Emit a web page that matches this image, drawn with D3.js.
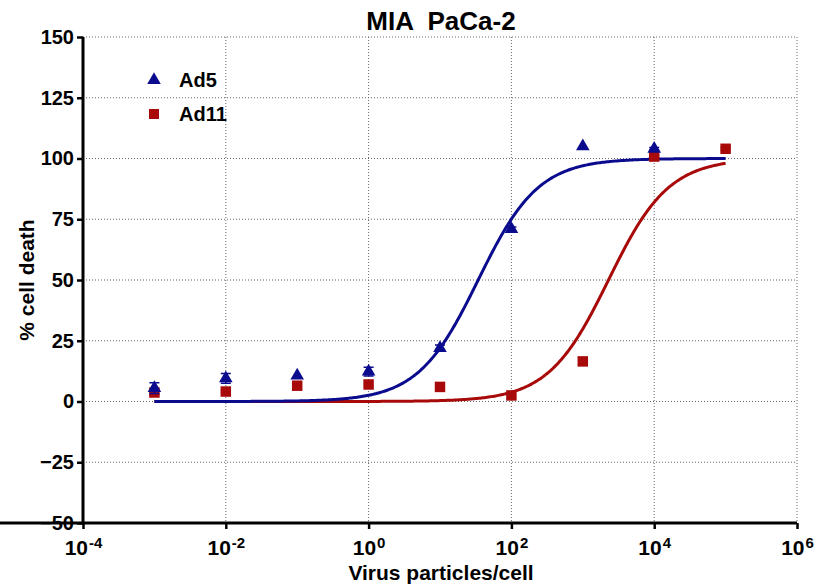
<!DOCTYPE html>
<html>
<head>
<meta charset="utf-8">
<script src="https://cdn.jsdelivr.net/npm/d3@7"></script>
<style>
  body { margin: 0; background: #fff; }
  text { font-family: "Liberation Sans", Arial, sans-serif; font-weight: bold; }
</style>
</head>
<body>
<svg id="chart" width="821" height="585"></svg>
<script>
// Doses (virus particles per cell)
const doses = [1e-3, 1e-2, 1e-1, 1, 10, 100, 1000, 1e4, 1e5];
// Mean % cell death and SEM for each virus
const ad5Mean = [5.5, 9.5, 10.7, 12.3, 22, 71, 105, 104, null];
const ad5Err  = [2.2, 2.0, 0,    1.8,  1.2, 0.8, 0,   0.5, null];
const ad11Mean = [3.7, 4.1, 6.5, 7, 6, 2.5, 16.5, 100.8, 104];
const ad11Err  = [0.8, 0.5, 0,   0, 0, 0,   1.4,  0.5,   0.5];
// Fitted dose–response parameters (log EC50, Hill slope, bottom, top)
const ad5Fit  = { logEC50: 1.535, hill: 1.03, bottom: 0, top: 100 };
const ad11Fit = { logEC50: 3.36,  hill: 1.03, bottom: 0, top: 100 };
const fitRange = [1e-3, 1e5];
// Axis ticks
const xTicks = [1e-4, 1e-2, 1, 1e2, 1e4, 1e6];
const yTicks = [-50, -25, 0, 25, 50, 75, 100, 125, 150];

const svg = d3.select("#chart");
const x = d3.scaleLog().domain([1e-4, 1e6]).range([83, 797]);
const y = d3.scaleLinear().domain([-50, 150]).range([523, 37]);

const blue = "#0b0b8e", red = "#a80a0a";
const FONT = "Liberation Sans, Arial, sans-serif";

// Dotted grid
const grid = svg.append("g").attr("stroke", "#666").attr("stroke-width", 1)
  .attr("stroke-dasharray", "1,2");
xTicks.slice(1).forEach(t => grid.append("line")
  .attr("x1", x(t)).attr("x2", x(t)).attr("y1", y(150)).attr("y2", y(-50)));
yTicks.slice(1).forEach(t => grid.append("line")
  .attr("x1", x(1e-4)).attr("x2", x(1e6)).attr("y1", y(t)).attr("y2", y(t)));

// Axes
const yAxis = svg.append("g").attr("transform", `translate(${x(1e-4)},0)`)
  .call(d3.axisLeft(y).tickValues(yTicks).tickSize(6).tickPadding(3).tickFormat(d3.format("d")));
const xAxis = svg.append("g").attr("transform", `translate(0,${y(-50)})`)
  .call(d3.axisBottom(x).tickValues(xTicks).tickSize(6).tickPadding(5).tickFormat(() => ""));
[yAxis, xAxis].forEach(a => {
  a.select(".domain").attr("stroke", "#000").attr("stroke-width", 3);
  a.selectAll(".tick line").attr("stroke", "#000").attr("stroke-width", 2.5);
});
yAxis.selectAll(".domain").attr("d", `M0,${y(150)}V${y(-50) + 1.5}`);
xAxis.selectAll(".domain").attr("d", `M-1.5,0H${x(1e6)}`);
yAxis.selectAll(".tick text").attr("font-size", 20).attr("fill", "#000")
  .attr("font-family", FONT).attr("font-weight", "bold");

// Power-of-ten tick labels
xAxis.selectAll(".tick text").each(function (d) {
  const t = d3.select(this).text(null).attr("font-size", 21).attr("fill", "#000")
    .attr("font-family", FONT).attr("font-weight", "bold")
    .attr("dy", "1em").attr("text-anchor", "middle");
  t.append("tspan").text("10");
  t.append("tspan").attr("dy", "-0.5em").attr("dx", "1").attr("font-size", 15)
    .text(Math.round(Math.log10(d)));
});

// Fitted curves
function fitFn(p) {
  return v => p.bottom + (p.top - p.bottom) / (1 + Math.pow(10, (p.logEC50 - Math.log10(v)) * p.hill));
}
const curveX = d3.range(0, 401).map(i => Math.pow(10, Math.log10(fitRange[0]) +
  i / 400 * (Math.log10(fitRange[1]) - Math.log10(fitRange[0]))));
const line = d3.line().x(d => x(d[0])).y(d => y(d[1]));
[[ad11Fit, red], [ad5Fit, blue]].forEach(([p, c]) => {
  const f = fitFn(p);
  svg.append("path").datum(curveX.map(v => [v, f(v)]))
    .attr("d", line).attr("fill", "none").attr("stroke", c).attr("stroke-width", 3);
});

// Data points with error bars
function drawSeries(means, errs, color, symbolType, size) {
  const g = svg.append("g");
  doses.forEach((dose, i) => {
    const m = means[i];
    if (m == null) return;
    const e = errs[i] || 0;
    if (e > 0) {
      g.append("path").attr("fill", "none").attr("stroke", color).attr("stroke-width", 1.5)
        .attr("d", `M${x(dose)},${y(m - e)}V${y(m + e)}M${x(dose) - 5},${y(m + e)}H${x(dose) + 5}M${x(dose) - 5},${y(m - e)}H${x(dose) + 5}`);
    }
    g.append("path").attr("transform", `translate(${x(dose)},${y(m)})`)
      .attr("d", d3.symbol().type(symbolType).size(size)).attr("fill", color);
  });
}
drawSeries(ad11Mean, ad11Err, red, d3.symbolSquare, 110);
drawSeries(ad5Mean, ad5Err, blue, d3.symbolTriangle, 80);

// Legend
const legend = [["Ad5", blue, d3.symbolTriangle, 80], ["Ad11", red, d3.symbolSquare, 100]];
legend.forEach(([name, c, s, sz], i) => {
  const ly = 80 + i * 34;
  svg.append("path").attr("transform", `translate(154,${ly})`)
    .attr("d", d3.symbol().type(s).size(sz)).attr("fill", c);
  svg.append("text").attr("x", 179).attr("y", ly + 7).attr("font-size", 20).text(name);
});

// Titles
svg.append("text").attr("x", 441).attr("y", 30).attr("text-anchor", "middle")
  .attr("font-size", 26).style("white-space", "pre").text("MIA  PaCa-2");
svg.append("text").attr("x", 441).attr("y", 580).attr("text-anchor", "middle")
  .attr("font-size", 21).text("Virus particles/cell");
svg.append("text").attr("transform", `translate(34,${y(50)}) rotate(-90)`)
  .attr("text-anchor", "middle").attr("font-size", 21).text("% cell death");
</script>
</body>
</html>
